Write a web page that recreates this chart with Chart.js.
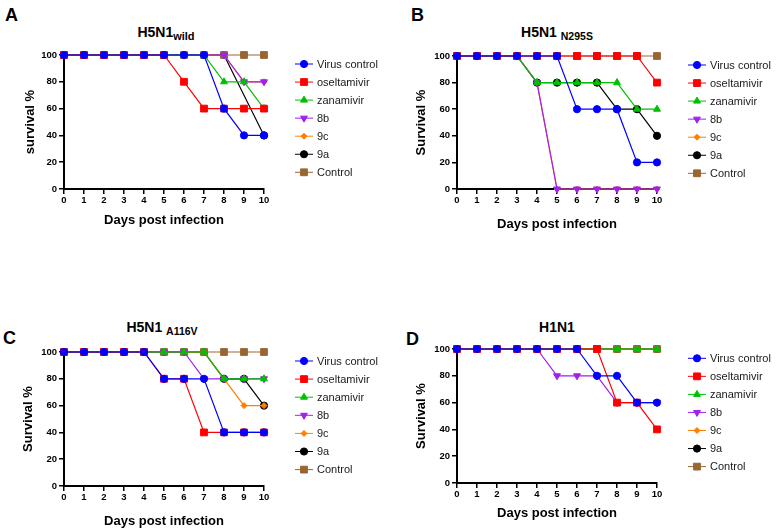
<!DOCTYPE html>
<html lang="en">
<head>
    <meta charset="UTF-8">
    <title>Survival curves</title>
    <style>
        body {
            margin: 0;
            background-color: white;
            font-family: Arial, "Liberation Sans", sans-serif;
        }
        .page {
            position: relative;
            width: 776px;
            height: 532px;
            overflow: hidden;
        }
        .panel {
            position: absolute;
        }
        .letter {
            position: absolute;
            font-size: 18px;
            font-weight: bold;
            line-height: 20px;
        }
        .title {
            position: absolute;
            font-size: 14px;
            font-weight: bold;
            line-height: 16px;
            white-space: nowrap;
            transform: translateX(-50%);
        }
        .title span {
            font-size: 10.5px;
            position: relative;
            top: 3px;
        }
    </style>
</head>
<body>
<div class="page">
    <div class="letter" style="left:5px; top:5px;">A</div>
    <div class="letter" style="left:411px; top:5px;">B</div>
    <div class="letter" style="left:3px; top:328px;">C</div>
    <div class="letter" style="left:406px; top:329px;">D</div>

    <div class="title" style="left:166px; top:24px;">H5N1<span style="font-size:11px;">wild</span></div>
    <div class="title" style="left:557px; top:24px;">H5N1 <span>N295S</span></div>
    <div class="title" style="left:162px; top:319px;">H5N1 <span>A116V</span></div>
    <div class="title" style="left:557px; top:319px;">H1N1</div>

    <canvas class="panel" id="chartA" width="390" height="266" style="left:0; top:0;"></canvas>
    <canvas class="panel" id="chartB" width="386" height="266" style="left:390px; top:0;"></canvas>
    <canvas class="panel" id="chartC" width="390" height="266" style="left:0; top:266px;"></canvas>
    <canvas class="panel" id="chartD" width="386" height="266" style="left:390px; top:266px;"></canvas>
</div>

<script src="https://cdn.jsdelivr.net/npm/chart.js"></script>
<script>
    // Days on the x axis and the y ticks
    const days = [0, 1, 2, 3, 4, 5, 6, 7, 8, 9, 10];
    const survivalTicks = [0, 20, 40, 60, 80, 100];
    const seriesNames = ['Virus control', 'oseltamivir', 'zanamivir', '8b', '9c', '9a', 'Control'];

    // A: H5N1 wild
    const wildVirus = [100, 100, 100, 100, 100, 100, 100, 100, 60, 40, 40];
    const wildOseltamivir = [100, 100, 100, 100, 100, 100, 80, 60, 60, 60, 60];
    const wildZanamivir = [100, 100, 100, 100, 100, 100, 100, 100, 80, 80, 60];
    const wild8b = [100, 100, 100, 100, 100, 100, 100, 100, 100, 80, 80];
    const wild9c = [100, 100, 100, 100, 100, 100, 100, 100, 100, 80, 80];
    const wild9a = [100, 100, 100, 100, 100, 100, 100, 100, 100, null, 40];
    const wildControl = [100, 100, 100, 100, 100, 100, 100, 100, 100, 100, 100];

    // B: H5N1 N295S
    const n295sVirus = [100, 100, 100, 100, 100, 100, 60, 60, 60, 20, 20];
    const n295sOseltamivir = [100, 100, 100, 100, 100, 100, 100, 100, 100, 100, 80];
    const n295sZanamivir = [100, 100, 100, 100, 80, 80, 80, 80, 80, 60, 60];
    const n295s8b = [100, 100, 100, 100, 80, 0, 0, 0, 0, 0, 0];
    const n295s9c = [100, 100, 100, 100, 80, 0, 0, 0, 0, 0, 0];
    const n295s9a = [100, 100, 100, 100, 80, 80, 80, 80, 60, 60, 40];
    const n295sControl = [100, 100, 100, 100, 100, 100, 100, 100, 100, 100, 100];

    // C: H5N1 A116V
    const a116vVirus = [100, 100, 100, 100, 100, 80, 80, 80, 40, 40, 40];
    const a116vOseltamivir = [100, 100, 100, 100, 100, 80, 80, 40, 40, 40, 40];
    const a116vZanamivir = [100, 100, 100, 100, 100, 100, 100, 100, 80, 80, 80];
    const a116v8b = [100, 100, 100, 100, 100, 100, 100, 80, 80, 80, 80];
    const a116v9c = [100, 100, 100, 100, 100, 100, 100, 100, 80, 60, 60];
    const a116v9a = [100, 100, 100, 100, 100, 100, 100, 100, 80, 80, 60];
    const a116vControl = [100, 100, 100, 100, 100, 100, 100, 100, 100, 100, 100];

    // D: H1N1
    const h1n1Virus = [100, 100, 100, 100, 100, 100, 100, 80, 80, 60, 60];
    const h1n1Oseltamivir = [100, 100, 100, 100, 100, 100, 100, 100, 60, 60, 40];
    const h1n1Zanamivir = [100, 100, 100, 100, 100, 100, 100, 100, 100, 100, 100];
    const h1n18b = [100, 100, 100, 100, 100, 80, 80, 80, 60, 60, 60];
    const h1n19c = [100, 100, 100, 100, 100, 100, 100, 100, 100, 100, 100];
    const h1n19a = [100, 100, 100, 100, 100, 100, 100, 100, 100, 100, 100];
    const h1n1Control = [100, 100, 100, 100, 100, 100, 100, 100, 100, 100, 100];

    // Look of each series (same in every panel)
    const seriesColors = ['#0000FF', '#FF0000', '#00C000', '#A020F0', '#FF8000', '#000000', '#996633'];
    const seriesMarkers = ['circle', 'rect', 'triangle', 'triangle', 'rectRot', 'circle', 'rect'];
    const markerRadius = [3.6, 4.8, 4, 4, 3, 3.6, 4.8];
    const markerRotation = [0, 0, 0, 180, 0, 0, 0];
    const drawOrder = [0, 0, 0, 0, 1, 1, 0];

    const FONT = 'Arial, "Liberation Sans", sans-serif';
    Chart.defaults.font.family = FONT;
    Chart.defaults.color = '#000';

    // Draws a marker the same way Chart.js does, for the legend
    function drawMarker(ctx, style, r, rot, x, y, color) {
        ctx.fillStyle = color;
        ctx.strokeStyle = color;
        ctx.lineWidth = 1;
        ctx.beginPath();
        if (style === 'circle') {
            ctx.arc(x, y, r, 0, Math.PI * 2);
        } else if (style === 'rect') {
            const s = r * Math.SQRT1_2;
            ctx.rect(x - s, y - s, s * 2, s * 2);
        } else if (style === 'rectRot') {
            ctx.moveTo(x, y - r);
            ctx.lineTo(x + r, y);
            ctx.lineTo(x, y + r);
            ctx.lineTo(x - r, y);
            ctx.closePath();
        } else {
            let rad = rot * Math.PI / 180;
            ctx.moveTo(x + Math.sin(rad) * r, y - Math.cos(rad) * r);
            rad += Math.PI * 2 / 3;
            ctx.lineTo(x + Math.sin(rad) * r, y - Math.cos(rad) * r);
            rad += Math.PI * 2 / 3;
            ctx.lineTo(x + Math.sin(rad) * r, y - Math.cos(rad) * r);
            ctx.closePath();
        }
        ctx.fill();
        ctx.stroke();
    }

    // Legend on the right: short line with the marker in the middle
    const sideLegend = {
        id: 'sideLegend',
        afterDraw(chart, args, opts) {
            const ctx = chart.ctx;
            chart.data.datasets.forEach((ds, i) => {
                const y = opts.top + i * opts.step;
                ctx.save();
                ctx.strokeStyle = ds.borderColor;
                ctx.lineWidth = 1;
                ctx.beginPath();
                ctx.moveTo(opts.left, y);
                ctx.lineTo(opts.left + 18, y);
                ctx.stroke();
                drawMarker(ctx, ds.pointStyle, ds.pointRadius, ds.pointRotation, opts.left + 9, y, ds.borderColor);
                ctx.fillStyle = '#1a1a1a';
                ctx.font = '11px ' + FONT;
                ctx.textBaseline = 'middle';
                ctx.fillText(ds.label, opts.left + 22, y + 0.5);
                ctx.restore();
            });
        }
    };

    function makePanel(id, series, yTitle, box) {
        const datasets = seriesNames.map((name, i) => ({
            label: name,
            data: days.map((d, j) => ({ x: d, y: series[i][j] })),
            borderColor: seriesColors[i],
            backgroundColor: seriesColors[i],
            pointBackgroundColor: seriesColors[i],
            pointBorderColor: seriesColors[i],
            pointBorderWidth: 1,
            pointStyle: seriesMarkers[i],
            pointRadius: markerRadius[i],
            pointRotation: markerRotation[i],
            borderWidth: 1.2,
            spanGaps: true,
            clip: false,
            order: drawOrder[i]
        }));

        new Chart(document.getElementById(id), {
            type: 'line',
            data: { datasets: datasets },
            plugins: [sideLegend],
            options: {
                responsive: false,
                animation: false,
                events: [],
                layout: { padding: box.padding },
                plugins: {
                    legend: { display: false },
                    tooltip: { enabled: false },
                    sideLegend: box.legend
                },
                scales: {
                    x: {
                        type: 'linear',
                        min: 0,
                        max: 10,
                        afterBuildTicks: s => { s.ticks = days.map(v => ({ value: v })); },
                        afterFit: s => { s.height = box.xHeight; },
                        grid: { drawOnChartArea: false, drawTicks: true, tickLength: 5, color: '#000', lineWidth: 1.5 },
                        border: { display: true, color: '#000', width: 2 },
                        ticks: { padding: 1, maxRotation: 0, autoSkip: false, font: { size: 9.5, weight: 'bold' } },
                        title: { display: true, text: 'Days post infection', padding: { top: 0, bottom: 0 },
                                 font: { size: 13, weight: 'bold' } }
                    },
                    y: {
                        min: 0,
                        max: 100,
                        afterBuildTicks: s => { s.ticks = survivalTicks.map(v => ({ value: v })); },
                        afterFit: s => { s.width = box.yWidth; },
                        grid: { drawOnChartArea: false, drawTicks: true, tickLength: 5, color: '#000', lineWidth: 1.5 },
                        border: { display: true, color: '#000', width: 2 },
                        ticks: { padding: 2, font: { size: 9.5, weight: 'bold' } },
                        title: { display: true, text: yTitle, padding: { top: 4, bottom: 0 },
                                 font: { size: 13, weight: 'bold' } }
                    }
                }
            }
        });
    }

    makePanel('chartA',
        [wildVirus, wildOseltamivir, wildZanamivir, wild8b, wild9c, wild9a, wildControl],
        'survival %',
        { padding: { left: 19, right: 126, top: 55, bottom: 38 }, yWidth: 45, xHeight: 39,
          legend: { left: 295, top: 64, step: 18.05 } });

    makePanel('chartB',
        [n295sVirus, n295sOseltamivir, n295sZanamivir, n295s8b, n295s9c, n295s9a, n295sControl],
        'Survival %',
        { padding: { left: 20, right: 119, top: 56, bottom: 34 }, yWidth: 47, xHeight: 43,
          legend: { left: 298, top: 65, step: 18.05 } });

    makePanel('chartC',
        [a116vVirus, a116vOseltamivir, a116vZanamivir, a116v8b, a116v9c, a116v9a, a116vControl],
        'Survival %',
        { padding: { left: 17, right: 126, top: 86, bottom: 3 }, yWidth: 47, xHeight: 43,
          legend: { left: 295, top: 95, step: 18.1 } });

    makePanel('chartD',
        [h1n1Virus, h1n1Oseltamivir, h1n1Zanamivir, h1n18b, h1n19c, h1n19a, h1n1Control],
        'Survival %',
        { padding: { left: 20, right: 119, top: 83, bottom: 11 }, yWidth: 47, xHeight: 38,
          legend: { left: 298, top: 92.3, step: 18.05 } });
</script>
</body>
</html>
